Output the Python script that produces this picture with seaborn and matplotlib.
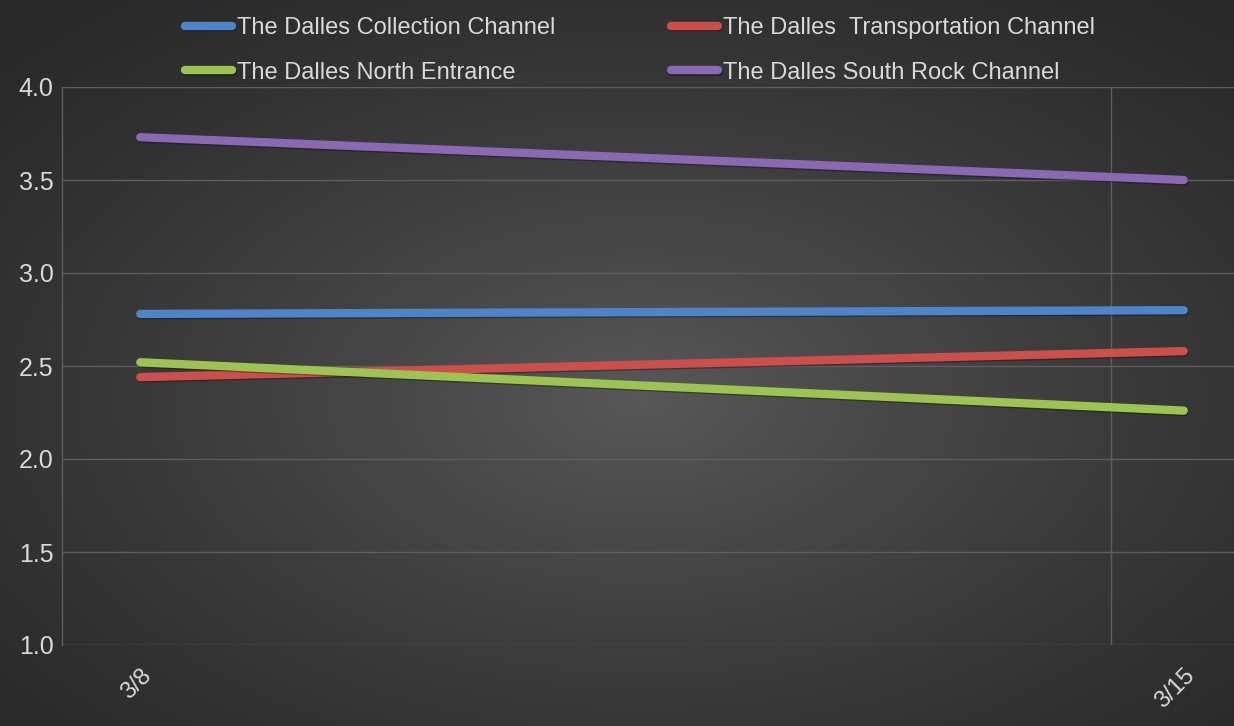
import numpy as np
import pandas as pd
import matplotlib
matplotlib.use("Agg")
import matplotlib.pyplot as plt
import matplotlib.patheffects as pe
import seaborn as sns

dates = ["3/8", "3/15"]
series = ["The Dalles Collection Channel", "The Dalles  Transportation Channel",
          "The Dalles North Entrance", "The Dalles South Rock Channel"]
collection = [2.78, 2.80]
transportation = [2.44, 2.58]
north_entrance = [2.52, 2.26]
south_rock = [3.73, 3.50]
colors = ["#4D85CB", "#CD4F4C", "#9DC453", "#8A68B4"]

rows = []
for name, vals in zip(series, [collection, transportation, north_entrance, south_rock]):
    for i, (d, v) in enumerate(zip(dates, vals)):
        rows.append({"pos": i, "date": d, "value": v, "series": name})
df = pd.DataFrame(rows)

sns.set_theme(style="dark")
plt.rcParams['font.family'] = ['Liberation Sans Narrow', 'Liberation Sans', 'DejaVu Sans']
txt = "#D9D9D9"

fig = plt.figure(figsize=(12.34, 7.26), dpi=100)
# radial gradient background
bg = fig.add_axes([0, 0, 1, 1], zorder=-10)
yy, xx = np.mgrid[0:1:400j, 0:1:700j]
r = np.sqrt(((xx - 0.52) / 0.75) ** 2 + ((yy - 0.55) / 0.75) ** 2)
bgval = np.clip(1 - r, 0, 1)
c0 = np.array([0x28, 0x28, 0x28]) / 255
c1 = np.array([0x58, 0x58, 0x58]) / 255
img = c0[None, None, :] + (c1 - c0)[None, None, :] * (bgval[..., None] ** 1.3)
bg.imshow(img, aspect='auto', extent=[0, 1, 0, 1], interpolation='bilinear')
bg.axis('off')

ax = fig.add_axes([62 / 1234, 1 - 645 / 726, 1 - 62 / 1234 + 0.01, (645 - 87) / 726])
ax.patch.set_alpha(0)
sns.lineplot(data=df, x="pos", y="value", hue="series", palette=colors,
             hue_order=series, linewidth=6, ax=ax, legend=True)
for ln in ax.get_lines():
    ln.set_solid_capstyle('round')
    ln.set_path_effects([pe.SimpleLineShadow(offset=(0.5, -1), shadow_color='black', alpha=0.3),
                         pe.Normal()])

ax.set_ylim(1.0, 4.0)
ax.set_yticks(np.arange(1.0, 4.01, 0.5))
ax.set_yticklabels([f"{v:.1f}" for v in np.arange(1.0, 4.01, 0.5)], color=txt, fontsize=18)
ax.set_xlim(-0.075, 1.06)
ax.set_xticks([0, 1])
ax.set_xticklabels(dates, rotation=45, ha='right', rotation_mode='anchor', color=txt, fontsize=17)
ax.tick_params(axis='y', pad=6, length=0)
ax.tick_params(axis='x', pad=14, length=0)
ax.set_xlabel("")
ax.set_ylabel("")
ax.grid(axis='y', color='#5E5E5E', linewidth=1)
ax.grid(axis='x', visible=False)
ax.axvline(0.93, color='#5E5E5E', linewidth=1, zorder=0)
for s in ["top", "right", "bottom"]:
    ax.spines[s].set_visible(False)
ax.spines["left"].set_visible(True)
ax.spines["left"].set_color('#5E5E5E')
ax.spines["left"].set_linewidth(1)

handles, labels = ax.get_legend_handles_labels()
ax.get_legend().remove()
for h in handles:
    h.set_linewidth(6)
    h.set_solid_capstyle('round')
order = [0, 2, 1, 3]
leg = fig.legend([handles[i] for i in order], [labels[i] for i in order], ncol=2,
                 loc='upper left', bbox_to_anchor=(164 / 1234, 1.0 + 4 / 726),
                 frameon=False, fontsize=17, handlelength=2.0, handletextpad=0.2,
                 columnspacing=4.9, labelspacing=0.95)
for t in leg.get_texts():
    t.set_color(txt)

fig.savefig("out.png", dpi=100)
